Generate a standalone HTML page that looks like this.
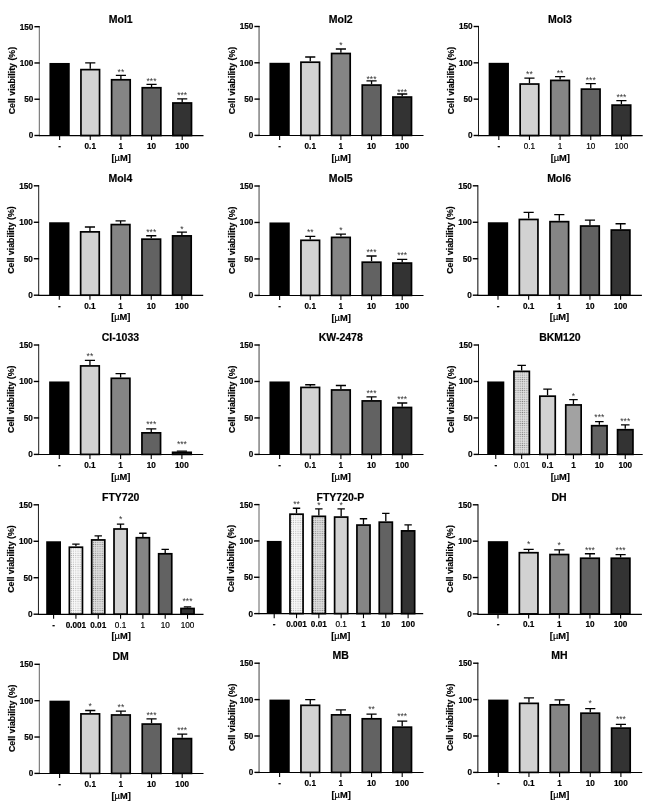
<!DOCTYPE html>
<html lang="en"><head><meta charset="utf-8"><title>Cell viability</title>
<style>html,body{margin:0;padding:0;background:#fff}body{width:649px;height:805px;overflow:hidden}svg{display:block;will-change:transform}text{font-family:"Liberation Sans", Arial, sans-serif;fill:#000;stroke:#000;stroke-width:.18px}.t{font-size:10.5px;font-weight:bold;text-anchor:middle}.k{font-size:8.2px;font-weight:bold}.y{font-size:8.8px;font-weight:bold;text-anchor:middle}.u{font-size:9.3px;font-weight:bold;text-anchor:middle}.s{font-size:8.6px;text-anchor:middle;fill:#333;stroke:none}</style></head><body>
<svg width="649" height="805" viewBox="0 0 649 805">
<defs>
<pattern id="p1" width="2.2" height="2.2" patternUnits="userSpaceOnUse"><rect width="2.2" height="2.2" fill="#fafafa"/><rect x="0.5" y="0.6" width="1.0" height="1.0" fill="#a8a8a8"/></pattern>
<pattern id="p2" width="2.2" height="2.2" patternUnits="userSpaceOnUse"><rect width="2.2" height="2.2" fill="#e4e4e4"/><rect x="0.5" y="0.6" width="1.1" height="1.0" fill="#808080"/></pattern>
</defs>
<rect width="649" height="805" fill="#fff"/>
<g>
<text class="t" x="120.7" y="22.7">Mol1</text>
<text class="y" transform="translate(14.5 80.6) rotate(-90)">Cell viability (%)</text>
<rect x="49.45" y="62.97" width="20.30" height="72.53" fill="#000"/>
<path d="M59.60 135.50v4.6" stroke="#000" stroke-width="1.1"/>
<text class="k" text-anchor="middle" x="59.60" y="148.90">-</text>
<path d="M90.25 68.77V62.97M85.17 62.97H95.33" stroke="#000" stroke-width="1.3" fill="none"/>
<rect x="80.95" y="69.62" width="18.60" height="65.88" fill="#d2d2d2" stroke="#000" stroke-width="1.7"/>
<path d="M90.25 135.50v4.6" stroke="#000" stroke-width="1.1"/>
<text class="k" text-anchor="middle" x="90.25" y="148.90">0.1</text>
<path d="M120.90 78.92V75.30M115.83 75.30H125.98" stroke="#000" stroke-width="1.3" fill="none"/>
<rect x="111.60" y="79.77" width="18.60" height="55.73" fill="#858585" stroke="#000" stroke-width="1.7"/>
<text class="s" x="120.90" y="75.10">**</text>
<path d="M120.90 135.50v4.6" stroke="#000" stroke-width="1.1"/>
<text class="k" text-anchor="middle" x="120.90" y="148.90">1</text>
<path d="M151.55 86.90V84.36M146.47 84.36H156.62" stroke="#000" stroke-width="1.3" fill="none"/>
<rect x="142.25" y="87.75" width="18.60" height="47.75" fill="#626262" stroke="#000" stroke-width="1.7"/>
<text class="s" x="151.55" y="84.16">***</text>
<path d="M151.55 135.50v4.6" stroke="#000" stroke-width="1.1"/>
<text class="k" text-anchor="middle" x="151.55" y="148.90">10</text>
<path d="M182.20 102.13V98.87M177.12 98.87H187.27" stroke="#000" stroke-width="1.3" fill="none"/>
<rect x="172.90" y="102.98" width="18.60" height="32.52" fill="#333333" stroke="#000" stroke-width="1.7"/>
<text class="s" x="182.20" y="98.37">***</text>
<path d="M182.20 135.50v4.6" stroke="#000" stroke-width="1.1"/>
<text class="k" text-anchor="middle" x="182.20" y="148.90">100</text>
<path d="M39.30 26.20V135.50" stroke="#111" stroke-width="0.66" fill="none"/>
<path d="M38.90 135.60H203.50" stroke="#000" stroke-width="1.2" fill="none"/>
<path d="M39.70 135.50h-5.3" stroke="#000" stroke-width="1.4"/>
<text class="k" text-anchor="end" x="33.40" y="138.40">0</text>
<path d="M39.70 99.23h-5.3" stroke="#000" stroke-width="1.4"/>
<text class="k" text-anchor="end" x="33.40" y="102.13">50</text>
<path d="M39.70 62.97h-5.3" stroke="#000" stroke-width="1.4"/>
<text class="k" text-anchor="end" x="33.40" y="65.87">100</text>
<path d="M39.70 26.70h-5.3" stroke="#000" stroke-width="1.4"/>
<text class="k" text-anchor="end" x="33.40" y="29.60">150</text>
<text class="u" x="121.10" y="160.60">[<tspan font-weight="normal">µ</tspan>M]</text>
</g>
<g>
<text class="t" x="340.7" y="22.5">Mol2</text>
<text class="y" transform="translate(234.5 80.5) rotate(-90)">Cell viability (%)</text>
<rect x="269.45" y="62.80" width="20.30" height="72.60" fill="#000"/>
<path d="M279.60 135.40v4.6" stroke="#000" stroke-width="1.1"/>
<text class="k" text-anchor="middle" x="279.60" y="148.80">-</text>
<path d="M310.25 61.35V56.99M305.17 56.99H315.32" stroke="#000" stroke-width="1.3" fill="none"/>
<rect x="300.95" y="62.20" width="18.60" height="73.20" fill="#d2d2d2" stroke="#000" stroke-width="1.7"/>
<path d="M310.25 135.40v4.6" stroke="#000" stroke-width="1.1"/>
<text class="k" text-anchor="middle" x="310.25" y="148.80">0.1</text>
<path d="M340.90 52.64V49.01M335.82 49.01H345.97" stroke="#000" stroke-width="1.3" fill="none"/>
<rect x="331.60" y="53.49" width="18.60" height="81.91" fill="#858585" stroke="#000" stroke-width="1.7"/>
<text class="s" x="340.90" y="47.81">*</text>
<path d="M340.90 135.40v4.6" stroke="#000" stroke-width="1.1"/>
<text class="k" text-anchor="middle" x="340.90" y="148.80">1</text>
<path d="M371.55 84.22V80.88M366.47 80.88H376.62" stroke="#000" stroke-width="1.3" fill="none"/>
<rect x="362.25" y="85.07" width="18.60" height="50.33" fill="#626262" stroke="#000" stroke-width="1.7"/>
<text class="s" x="371.55" y="81.58">***</text>
<path d="M371.55 135.40v4.6" stroke="#000" stroke-width="1.1"/>
<text class="k" text-anchor="middle" x="371.55" y="148.80">10</text>
<path d="M402.20 96.20V94.02M397.12 94.02H407.27" stroke="#000" stroke-width="1.3" fill="none"/>
<rect x="392.90" y="97.05" width="18.60" height="38.35" fill="#333333" stroke="#000" stroke-width="1.7"/>
<text class="s" x="402.20" y="94.92">***</text>
<path d="M402.20 135.40v4.6" stroke="#000" stroke-width="1.1"/>
<text class="k" text-anchor="middle" x="402.20" y="148.80">100</text>
<path d="M259.05 26.00V135.40" stroke="#111" stroke-width="0.80" fill="none"/>
<path d="M258.90 135.50H423.50" stroke="#000" stroke-width="1.2" fill="none"/>
<path d="M259.70 135.40h-5.3" stroke="#000" stroke-width="1.4"/>
<text class="k" text-anchor="end" x="253.40" y="138.30">0</text>
<path d="M259.70 99.10h-5.3" stroke="#000" stroke-width="1.4"/>
<text class="k" text-anchor="end" x="253.40" y="102.00">50</text>
<path d="M259.70 62.80h-5.3" stroke="#000" stroke-width="1.4"/>
<text class="k" text-anchor="end" x="253.40" y="65.70">100</text>
<path d="M259.70 26.50h-5.3" stroke="#000" stroke-width="1.4"/>
<text class="k" text-anchor="end" x="253.40" y="29.40">150</text>
<text class="u" x="341.10" y="160.50">[<tspan font-weight="normal">µ</tspan>M]</text>
</g>
<g>
<text class="t" x="559.9" y="22.5">Mol3</text>
<text class="y" transform="translate(453.7 80.5) rotate(-90)">Cell viability (%)</text>
<rect x="488.65" y="62.83" width="20.30" height="72.67" fill="#000"/>
<path d="M498.80 135.50v4.6" stroke="#000" stroke-width="1.1"/>
<text class="k" text-anchor="middle" x="498.80" y="148.90">-</text>
<path d="M529.45 83.18V78.09M524.37 78.09H534.52" stroke="#000" stroke-width="1.3" fill="none"/>
<rect x="520.15" y="84.03" width="18.60" height="51.47" fill="#d2d2d2" stroke="#000" stroke-width="1.7"/>
<text class="s" x="529.45" y="76.89">**</text>
<path d="M529.45 135.50v4.6" stroke="#000" stroke-width="1.1"/>
<text class="k" text-anchor="middle" style="font-weight:normal" x="529.45" y="148.90">0.1</text>
<path d="M560.10 79.55V76.64M555.02 76.64H565.17" stroke="#000" stroke-width="1.3" fill="none"/>
<rect x="550.80" y="80.40" width="18.60" height="55.10" fill="#858585" stroke="#000" stroke-width="1.7"/>
<text class="s" x="560.10" y="75.84">**</text>
<path d="M560.10 135.50v4.6" stroke="#000" stroke-width="1.1"/>
<text class="k" text-anchor="middle" style="font-weight:normal" x="560.10" y="148.90">1</text>
<path d="M590.75 88.27V83.54M585.67 83.54H595.83" stroke="#000" stroke-width="1.3" fill="none"/>
<rect x="581.45" y="89.12" width="18.60" height="46.38" fill="#626262" stroke="#000" stroke-width="1.7"/>
<text class="s" x="590.75" y="82.94">***</text>
<path d="M590.75 135.50v4.6" stroke="#000" stroke-width="1.1"/>
<text class="k" text-anchor="middle" style="font-weight:normal" x="590.75" y="148.90">10</text>
<path d="M621.40 104.25V100.62M616.32 100.62H626.48" stroke="#000" stroke-width="1.3" fill="none"/>
<rect x="612.10" y="105.10" width="18.60" height="30.40" fill="#333333" stroke="#000" stroke-width="1.7"/>
<text class="s" x="621.40" y="100.42">***</text>
<path d="M621.40 135.50v4.6" stroke="#000" stroke-width="1.1"/>
<text class="k" text-anchor="middle" style="font-weight:normal" x="621.40" y="148.90">100</text>
<path d="M478.50 26.00V135.50" stroke="#111" stroke-width="0.95" fill="none"/>
<path d="M478.10 135.60H642.70" stroke="#000" stroke-width="1.2" fill="none"/>
<path d="M478.90 135.50h-5.3" stroke="#000" stroke-width="1.4"/>
<text class="k" text-anchor="end" x="472.60" y="138.40">0</text>
<path d="M478.90 99.17h-5.3" stroke="#000" stroke-width="1.4"/>
<text class="k" text-anchor="end" x="472.60" y="102.07">50</text>
<path d="M478.90 62.83h-5.3" stroke="#000" stroke-width="1.4"/>
<text class="k" text-anchor="end" x="472.60" y="65.73">100</text>
<path d="M478.90 26.50h-5.3" stroke="#000" stroke-width="1.4"/>
<text class="k" text-anchor="end" x="472.60" y="29.40">150</text>
<text class="u" x="560.30" y="160.60">[<tspan font-weight="normal">µ</tspan>M]</text>
</g>
<g>
<text class="t" x="120.4" y="181.8">Mol4</text>
<text class="y" transform="translate(13.9 240.0) rotate(-90)">Cell viability (%)</text>
<rect x="49.15" y="222.27" width="20.30" height="72.93" fill="#000"/>
<path d="M59.30 295.20v4.6" stroke="#000" stroke-width="1.1"/>
<text class="k" text-anchor="middle" x="59.30" y="308.60">-</text>
<path d="M89.95 231.02V227.01M84.87 227.01H95.02" stroke="#000" stroke-width="1.3" fill="none"/>
<rect x="80.65" y="231.87" width="18.60" height="63.33" fill="#d2d2d2" stroke="#000" stroke-width="1.7"/>
<path d="M89.95 295.20v4.6" stroke="#000" stroke-width="1.1"/>
<text class="k" text-anchor="middle" x="89.95" y="308.60">0.1</text>
<path d="M120.60 223.73V220.81M115.52 220.81H125.67" stroke="#000" stroke-width="1.3" fill="none"/>
<rect x="111.30" y="224.58" width="18.60" height="70.62" fill="#858585" stroke="#000" stroke-width="1.7"/>
<path d="M120.60 295.20v4.6" stroke="#000" stroke-width="1.1"/>
<text class="k" text-anchor="middle" x="120.60" y="308.60">1</text>
<path d="M151.25 238.31V235.76M146.18 235.76H156.32" stroke="#000" stroke-width="1.3" fill="none"/>
<rect x="141.95" y="239.16" width="18.60" height="56.04" fill="#626262" stroke="#000" stroke-width="1.7"/>
<text class="s" x="151.25" y="235.46">***</text>
<path d="M151.25 295.20v4.6" stroke="#000" stroke-width="1.1"/>
<text class="k" text-anchor="middle" x="151.25" y="308.60">10</text>
<path d="M181.90 235.03V232.11M176.82 232.11H186.97" stroke="#000" stroke-width="1.3" fill="none"/>
<rect x="172.60" y="235.88" width="18.60" height="59.32" fill="#333333" stroke="#000" stroke-width="1.7"/>
<text class="s" x="181.90" y="232.01">*</text>
<path d="M181.90 295.20v4.6" stroke="#000" stroke-width="1.1"/>
<text class="k" text-anchor="middle" x="181.90" y="308.60">100</text>
<path d="M38.70 185.30V295.20" stroke="#111" stroke-width="0.95" fill="none"/>
<path d="M38.30 295.30H203.20" stroke="#000" stroke-width="1.2" fill="none"/>
<path d="M39.10 295.20h-5.3" stroke="#000" stroke-width="1.4"/>
<text class="k" text-anchor="end" x="32.80" y="298.10">0</text>
<path d="M39.10 258.73h-5.3" stroke="#000" stroke-width="1.4"/>
<text class="k" text-anchor="end" x="32.80" y="261.63">50</text>
<path d="M39.10 222.27h-5.3" stroke="#000" stroke-width="1.4"/>
<text class="k" text-anchor="end" x="32.80" y="225.17">100</text>
<path d="M39.10 185.80h-5.3" stroke="#000" stroke-width="1.4"/>
<text class="k" text-anchor="end" x="32.80" y="188.70">150</text>
<text class="u" x="120.80" y="320.30">[<tspan font-weight="normal">µ</tspan>M]</text>
</g>
<g>
<text class="t" x="340.7" y="182.0">Mol5</text>
<text class="y" transform="translate(234.5 240.2) rotate(-90)">Cell viability (%)</text>
<rect x="269.45" y="222.47" width="20.30" height="72.93" fill="#000"/>
<path d="M279.60 295.40v4.6" stroke="#000" stroke-width="1.1"/>
<text class="k" text-anchor="middle" x="279.60" y="308.80">-</text>
<path d="M310.25 239.46V236.32M305.17 236.32H315.32" stroke="#000" stroke-width="1.3" fill="none"/>
<rect x="300.95" y="240.31" width="18.60" height="55.09" fill="#d2d2d2" stroke="#000" stroke-width="1.7"/>
<text class="s" x="310.25" y="235.12">**</text>
<path d="M310.25 295.40v4.6" stroke="#000" stroke-width="1.1"/>
<text class="k" text-anchor="middle" x="310.25" y="308.80">0.1</text>
<path d="M340.90 236.54V234.14M335.82 234.14H345.97" stroke="#000" stroke-width="1.3" fill="none"/>
<rect x="331.60" y="237.39" width="18.60" height="58.01" fill="#858585" stroke="#000" stroke-width="1.7"/>
<text class="s" x="340.90" y="232.94">*</text>
<path d="M340.90 295.40v4.6" stroke="#000" stroke-width="1.1"/>
<text class="k" text-anchor="middle" x="340.90" y="308.80">1</text>
<path d="M371.55 261.34V256.02M366.47 256.02H376.62" stroke="#000" stroke-width="1.3" fill="none"/>
<rect x="362.25" y="262.19" width="18.60" height="33.21" fill="#626262" stroke="#000" stroke-width="1.7"/>
<text class="s" x="371.55" y="254.82">***</text>
<path d="M371.55 295.40v4.6" stroke="#000" stroke-width="1.1"/>
<text class="k" text-anchor="middle" x="371.55" y="308.80">10</text>
<path d="M402.20 262.22V259.30M397.12 259.30H407.27" stroke="#000" stroke-width="1.3" fill="none"/>
<rect x="392.90" y="263.07" width="18.60" height="32.33" fill="#333333" stroke="#000" stroke-width="1.7"/>
<text class="s" x="402.20" y="258.10">***</text>
<path d="M402.20 295.40v4.6" stroke="#000" stroke-width="1.1"/>
<text class="k" text-anchor="middle" x="402.20" y="308.80">100</text>
<path d="M259.05 185.50V295.40" stroke="#111" stroke-width="0.80" fill="none"/>
<path d="M258.90 295.50H423.50" stroke="#000" stroke-width="1.2" fill="none"/>
<path d="M259.70 295.40h-5.3" stroke="#000" stroke-width="1.4"/>
<text class="k" text-anchor="end" x="253.40" y="298.30">0</text>
<path d="M259.70 258.93h-5.3" stroke="#000" stroke-width="1.4"/>
<text class="k" text-anchor="end" x="253.40" y="261.83">50</text>
<path d="M259.70 222.47h-5.3" stroke="#000" stroke-width="1.4"/>
<text class="k" text-anchor="end" x="253.40" y="225.37">100</text>
<path d="M259.70 186.00h-5.3" stroke="#000" stroke-width="1.4"/>
<text class="k" text-anchor="end" x="253.40" y="188.90">150</text>
<text class="u" x="341.10" y="320.50">[<tspan font-weight="normal">µ</tspan>M]</text>
</g>
<g>
<text class="t" x="559.1" y="181.8">Mol6</text>
<text class="y" transform="translate(452.9 240.0) rotate(-90)">Cell viability (%)</text>
<rect x="487.85" y="222.27" width="20.30" height="72.93" fill="#000"/>
<path d="M498.00 295.20v4.6" stroke="#000" stroke-width="1.1"/>
<text class="k" text-anchor="middle" x="498.00" y="308.60">-</text>
<path d="M528.65 218.62V212.42M523.57 212.42H533.73" stroke="#000" stroke-width="1.3" fill="none"/>
<rect x="519.35" y="219.47" width="18.60" height="75.73" fill="#d2d2d2" stroke="#000" stroke-width="1.7"/>
<path d="M528.65 295.20v4.6" stroke="#000" stroke-width="1.1"/>
<text class="k" text-anchor="middle" x="528.65" y="308.60">0.1</text>
<path d="M559.30 220.81V214.61M554.22 214.61H564.38" stroke="#000" stroke-width="1.3" fill="none"/>
<rect x="550.00" y="221.66" width="18.60" height="73.54" fill="#858585" stroke="#000" stroke-width="1.7"/>
<path d="M559.30 295.20v4.6" stroke="#000" stroke-width="1.1"/>
<text class="k" text-anchor="middle" x="559.30" y="308.60">1</text>
<path d="M589.95 225.18V220.08M584.88 220.08H595.03" stroke="#000" stroke-width="1.3" fill="none"/>
<rect x="580.65" y="226.03" width="18.60" height="69.17" fill="#626262" stroke="#000" stroke-width="1.7"/>
<path d="M589.95 295.20v4.6" stroke="#000" stroke-width="1.1"/>
<text class="k" text-anchor="middle" x="589.95" y="308.60">10</text>
<path d="M620.60 229.20V223.73M615.52 223.73H625.68" stroke="#000" stroke-width="1.3" fill="none"/>
<rect x="611.30" y="230.05" width="18.60" height="65.15" fill="#333333" stroke="#000" stroke-width="1.7"/>
<path d="M620.60 295.20v4.6" stroke="#000" stroke-width="1.1"/>
<text class="k" text-anchor="middle" x="620.60" y="308.60">100</text>
<path d="M477.85 185.30V295.20" stroke="#111" stroke-width="1.05" fill="none"/>
<path d="M477.30 295.30H641.90" stroke="#000" stroke-width="1.2" fill="none"/>
<path d="M478.10 295.20h-5.3" stroke="#000" stroke-width="1.4"/>
<text class="k" text-anchor="end" x="471.80" y="298.10">0</text>
<path d="M478.10 258.73h-5.3" stroke="#000" stroke-width="1.4"/>
<text class="k" text-anchor="end" x="471.80" y="261.63">50</text>
<path d="M478.10 222.27h-5.3" stroke="#000" stroke-width="1.4"/>
<text class="k" text-anchor="end" x="471.80" y="225.17">100</text>
<path d="M478.10 185.80h-5.3" stroke="#000" stroke-width="1.4"/>
<text class="k" text-anchor="end" x="471.80" y="188.70">150</text>
<text class="u" x="559.50" y="320.30">[<tspan font-weight="normal">µ</tspan>M]</text>
</g>
<g>
<text class="t" x="120.4" y="341.0">CI-1033</text>
<text class="y" transform="translate(13.9 399.2) rotate(-90)">Cell viability (%)</text>
<rect x="49.15" y="381.47" width="20.30" height="72.93" fill="#000"/>
<path d="M59.30 454.40v4.6" stroke="#000" stroke-width="1.1"/>
<text class="k" text-anchor="middle" x="59.30" y="467.80">-</text>
<path d="M89.95 365.06V360.46M84.87 360.46H95.02" stroke="#000" stroke-width="1.3" fill="none"/>
<rect x="80.65" y="365.91" width="18.60" height="88.49" fill="#d2d2d2" stroke="#000" stroke-width="1.7"/>
<text class="s" x="89.95" y="359.26">**</text>
<path d="M89.95 454.40v4.6" stroke="#000" stroke-width="1.1"/>
<text class="k" text-anchor="middle" x="89.95" y="467.80">0.1</text>
<path d="M120.60 377.46V373.59M115.52 373.59H125.67" stroke="#000" stroke-width="1.3" fill="none"/>
<rect x="111.30" y="378.31" width="18.60" height="76.09" fill="#858585" stroke="#000" stroke-width="1.7"/>
<path d="M120.60 454.40v4.6" stroke="#000" stroke-width="1.1"/>
<text class="k" text-anchor="middle" x="120.60" y="467.80">1</text>
<path d="M151.25 432.01V428.95M146.18 428.95H156.32" stroke="#000" stroke-width="1.3" fill="none"/>
<rect x="141.95" y="432.86" width="18.60" height="21.54" fill="#626262" stroke="#000" stroke-width="1.7"/>
<text class="s" x="151.25" y="427.05">***</text>
<path d="M151.25 454.40v4.6" stroke="#000" stroke-width="1.1"/>
<text class="k" text-anchor="middle" x="151.25" y="467.80">10</text>
<path d="M181.90 451.48V451.19M176.82 451.19H186.97" stroke="#000" stroke-width="1.3" fill="none"/>
<rect x="172.60" y="452.33" width="18.60" height="2.07" fill="#333333" stroke="#000" stroke-width="1.7"/>
<text class="s" x="181.90" y="447.19">***</text>
<path d="M181.90 454.40v4.6" stroke="#000" stroke-width="1.1"/>
<text class="k" text-anchor="middle" x="181.90" y="467.80">100</text>
<path d="M38.70 344.50V454.40" stroke="#111" stroke-width="0.95" fill="none"/>
<path d="M38.30 454.50H203.20" stroke="#000" stroke-width="1.2" fill="none"/>
<path d="M39.10 454.40h-5.3" stroke="#000" stroke-width="1.4"/>
<text class="k" text-anchor="end" x="32.80" y="457.30">0</text>
<path d="M39.10 417.93h-5.3" stroke="#000" stroke-width="1.4"/>
<text class="k" text-anchor="end" x="32.80" y="420.83">50</text>
<path d="M39.10 381.47h-5.3" stroke="#000" stroke-width="1.4"/>
<text class="k" text-anchor="end" x="32.80" y="384.37">100</text>
<path d="M39.10 345.00h-5.3" stroke="#000" stroke-width="1.4"/>
<text class="k" text-anchor="end" x="32.80" y="347.90">150</text>
<text class="u" x="120.80" y="479.50">[<tspan font-weight="normal">µ</tspan>M]</text>
</g>
<g>
<text class="t" x="340.7" y="341.0">KW-2478</text>
<text class="y" transform="translate(234.5 399.2) rotate(-90)">Cell viability (%)</text>
<rect x="269.45" y="381.47" width="20.30" height="72.93" fill="#000"/>
<path d="M279.60 454.40v4.6" stroke="#000" stroke-width="1.1"/>
<text class="k" text-anchor="middle" x="279.60" y="467.80">-</text>
<path d="M310.25 386.57V384.75M305.17 384.75H315.32" stroke="#000" stroke-width="1.3" fill="none"/>
<rect x="300.95" y="387.42" width="18.60" height="66.98" fill="#d2d2d2" stroke="#000" stroke-width="1.7"/>
<path d="M310.25 454.40v4.6" stroke="#000" stroke-width="1.1"/>
<text class="k" text-anchor="middle" x="310.25" y="467.80">0.1</text>
<path d="M340.90 389.12V385.48M335.82 385.48H345.97" stroke="#000" stroke-width="1.3" fill="none"/>
<rect x="331.60" y="389.97" width="18.60" height="64.43" fill="#858585" stroke="#000" stroke-width="1.7"/>
<path d="M340.90 454.40v4.6" stroke="#000" stroke-width="1.1"/>
<text class="k" text-anchor="middle" x="340.90" y="467.80">1</text>
<path d="M371.55 400.06V396.78M366.47 396.78H376.62" stroke="#000" stroke-width="1.3" fill="none"/>
<rect x="362.25" y="400.91" width="18.60" height="53.49" fill="#626262" stroke="#000" stroke-width="1.7"/>
<text class="s" x="371.55" y="395.98">***</text>
<path d="M371.55 454.40v4.6" stroke="#000" stroke-width="1.1"/>
<text class="k" text-anchor="middle" x="371.55" y="467.80">10</text>
<path d="M402.20 406.63V402.98M397.12 402.98H407.27" stroke="#000" stroke-width="1.3" fill="none"/>
<rect x="392.90" y="407.48" width="18.60" height="46.92" fill="#333333" stroke="#000" stroke-width="1.7"/>
<text class="s" x="402.20" y="401.78">***</text>
<path d="M402.20 454.40v4.6" stroke="#000" stroke-width="1.1"/>
<text class="k" text-anchor="middle" x="402.20" y="467.80">100</text>
<path d="M259.05 344.50V454.40" stroke="#111" stroke-width="0.80" fill="none"/>
<path d="M258.90 454.50H423.50" stroke="#000" stroke-width="1.2" fill="none"/>
<path d="M259.70 454.40h-5.3" stroke="#000" stroke-width="1.4"/>
<text class="k" text-anchor="end" x="253.40" y="457.30">0</text>
<path d="M259.70 417.93h-5.3" stroke="#000" stroke-width="1.4"/>
<text class="k" text-anchor="end" x="253.40" y="420.83">50</text>
<path d="M259.70 381.47h-5.3" stroke="#000" stroke-width="1.4"/>
<text class="k" text-anchor="end" x="253.40" y="384.37">100</text>
<path d="M259.70 345.00h-5.3" stroke="#000" stroke-width="1.4"/>
<text class="k" text-anchor="end" x="253.40" y="347.90">150</text>
<text class="u" x="341.10" y="479.50">[<tspan font-weight="normal">µ</tspan>M]</text>
</g>
<g>
<text class="t" x="559.9" y="341.0">BKM120</text>
<text class="y" transform="translate(453.7 399.2) rotate(-90)">Cell viability (%)</text>
<rect x="487.20" y="381.47" width="17.10" height="72.93" fill="#000"/>
<path d="M495.75 454.40v4.6" stroke="#000" stroke-width="1.1"/>
<text class="k" text-anchor="middle" x="495.75" y="467.80">-</text>
<path d="M521.65 370.53V365.28M517.38 365.28H525.92" stroke="#000" stroke-width="1.3" fill="none"/>
<rect x="513.95" y="371.38" width="15.40" height="83.02" fill="url(#p2)" stroke="#000" stroke-width="1.7"/>
<path d="M521.65 454.40v4.6" stroke="#000" stroke-width="1.1"/>
<text class="k" text-anchor="middle" style="font-weight:normal" x="521.65" y="467.80">0.01</text>
<path d="M547.55 395.32V389.05M543.27 389.05H551.82" stroke="#000" stroke-width="1.3" fill="none"/>
<rect x="539.85" y="396.17" width="15.40" height="58.23" fill="#d2d2d2" stroke="#000" stroke-width="1.7"/>
<path d="M547.55 454.40v4.6" stroke="#000" stroke-width="1.1"/>
<text class="k" text-anchor="middle" x="547.55" y="467.80">0.1</text>
<path d="M573.45 404.08V399.70M569.18 399.70H577.73" stroke="#000" stroke-width="1.3" fill="none"/>
<rect x="565.75" y="404.93" width="15.40" height="49.47" fill="#a2a2a2" stroke="#000" stroke-width="1.7"/>
<text class="s" x="573.45" y="398.50">*</text>
<path d="M573.45 454.40v4.6" stroke="#000" stroke-width="1.1"/>
<text class="k" text-anchor="middle" x="573.45" y="467.80">1</text>
<path d="M599.35 424.86V421.58M595.08 421.58H603.62" stroke="#000" stroke-width="1.3" fill="none"/>
<rect x="591.65" y="425.71" width="15.40" height="28.69" fill="#626262" stroke="#000" stroke-width="1.7"/>
<text class="s" x="599.35" y="420.38">***</text>
<path d="M599.35 454.40v4.6" stroke="#000" stroke-width="1.1"/>
<text class="k" text-anchor="middle" x="599.35" y="467.80">10</text>
<path d="M625.25 428.87V424.86M620.98 424.86H629.52" stroke="#000" stroke-width="1.3" fill="none"/>
<rect x="617.55" y="429.72" width="15.40" height="24.68" fill="#333333" stroke="#000" stroke-width="1.7"/>
<text class="s" x="625.25" y="423.66">***</text>
<path d="M625.25 454.40v4.6" stroke="#000" stroke-width="1.1"/>
<text class="k" text-anchor="middle" x="625.25" y="467.80">100</text>
<path d="M478.50 344.50V454.40" stroke="#111" stroke-width="0.95" fill="none"/>
<path d="M478.10 454.50H642.70" stroke="#000" stroke-width="1.2" fill="none"/>
<path d="M478.90 454.40h-5.3" stroke="#000" stroke-width="1.4"/>
<text class="k" text-anchor="end" x="472.60" y="457.30">0</text>
<path d="M478.90 417.93h-5.3" stroke="#000" stroke-width="1.4"/>
<text class="k" text-anchor="end" x="472.60" y="420.83">50</text>
<path d="M478.90 381.47h-5.3" stroke="#000" stroke-width="1.4"/>
<text class="k" text-anchor="end" x="472.60" y="384.37">100</text>
<path d="M478.90 345.00h-5.3" stroke="#000" stroke-width="1.4"/>
<text class="k" text-anchor="end" x="472.60" y="347.90">150</text>
<text class="u" x="560.30" y="479.50">[<tspan font-weight="normal">µ</tspan>M]</text>
</g>
<g>
<text class="t" x="120.7" y="500.8">FTY720</text>
<text class="y" transform="translate(13.7 559.0) rotate(-90)">Cell viability (%)</text>
<rect x="46.20" y="541.27" width="14.80" height="72.93" fill="#000"/>
<path d="M53.60 614.20v4.6" stroke="#000" stroke-width="1.1"/>
<text class="k" text-anchor="middle" x="53.60" y="627.60">-</text>
<path d="M75.92 546.37V544.18M72.22 544.18H79.62" stroke="#000" stroke-width="1.3" fill="none"/>
<rect x="69.37" y="547.22" width="13.10" height="66.98" fill="url(#p1)" stroke="#000" stroke-width="1.7"/>
<path d="M75.92 614.20v4.6" stroke="#000" stroke-width="1.1"/>
<text class="k" text-anchor="middle" x="75.92" y="627.60">0.001</text>
<path d="M98.24 539.08V535.80M94.54 535.80H101.94" stroke="#000" stroke-width="1.3" fill="none"/>
<rect x="91.69" y="539.93" width="13.10" height="74.27" fill="url(#p2)" stroke="#000" stroke-width="1.7"/>
<path d="M98.24 614.20v4.6" stroke="#000" stroke-width="1.1"/>
<text class="k" text-anchor="middle" x="98.24" y="627.60">0.01</text>
<path d="M120.56 528.14V524.13M116.86 524.13H124.26" stroke="#000" stroke-width="1.3" fill="none"/>
<rect x="114.01" y="528.99" width="13.10" height="85.21" fill="#d2d2d2" stroke="#000" stroke-width="1.7"/>
<text class="s" x="120.56" y="522.13">*</text>
<path d="M120.56 614.20v4.6" stroke="#000" stroke-width="1.1"/>
<text class="k" text-anchor="middle" style="font-weight:normal" x="120.56" y="627.60">0.1</text>
<path d="M142.88 536.89V533.24M139.18 533.24H146.58" stroke="#000" stroke-width="1.3" fill="none"/>
<rect x="136.33" y="537.74" width="13.10" height="76.46" fill="#858585" stroke="#000" stroke-width="1.7"/>
<path d="M142.88 614.20v4.6" stroke="#000" stroke-width="1.1"/>
<text class="k" text-anchor="middle" style="font-weight:normal" x="142.88" y="627.60">1</text>
<path d="M165.20 552.94V549.29M161.50 549.29H168.90" stroke="#000" stroke-width="1.3" fill="none"/>
<rect x="158.65" y="553.79" width="13.10" height="60.41" fill="#626262" stroke="#000" stroke-width="1.7"/>
<path d="M165.20 614.20v4.6" stroke="#000" stroke-width="1.1"/>
<text class="k" text-anchor="middle" style="font-weight:normal" x="165.20" y="627.60">10</text>
<path d="M187.52 607.64V606.91M183.82 606.91H191.22" stroke="#000" stroke-width="1.3" fill="none"/>
<rect x="180.97" y="608.49" width="13.10" height="5.71" fill="#333333" stroke="#000" stroke-width="1.7"/>
<text class="s" x="187.52" y="603.91">***</text>
<path d="M187.52 614.20v4.6" stroke="#000" stroke-width="1.1"/>
<text class="k" text-anchor="middle" style="font-weight:normal" x="187.52" y="627.60">100</text>
<path d="M38.45 504.30V614.20" stroke="#111" stroke-width="0.95" fill="none"/>
<path d="M38.05 614.30H203.50" stroke="#000" stroke-width="1.2" fill="none"/>
<path d="M38.85 614.20h-5.3" stroke="#000" stroke-width="1.4"/>
<text class="k" text-anchor="end" x="32.55" y="617.10">0</text>
<path d="M38.85 577.73h-5.3" stroke="#000" stroke-width="1.4"/>
<text class="k" text-anchor="end" x="32.55" y="580.63">50</text>
<path d="M38.85 541.27h-5.3" stroke="#000" stroke-width="1.4"/>
<text class="k" text-anchor="end" x="32.55" y="544.17">100</text>
<path d="M38.85 504.80h-5.3" stroke="#000" stroke-width="1.4"/>
<text class="k" text-anchor="end" x="32.55" y="507.70">150</text>
<text class="u" x="121.10" y="639.30">[<tspan font-weight="normal">µ</tspan>M]</text>
</g>
<g>
<text class="t" x="340.4" y="500.6">FTY720-P</text>
<text class="y" transform="translate(234.2 558.6) rotate(-90)">Cell viability (%)</text>
<rect x="266.80" y="540.93" width="14.80" height="72.67" fill="#000"/>
<path d="M274.20 613.60v4.6" stroke="#000" stroke-width="1.1"/>
<text class="k" text-anchor="middle" x="274.20" y="627.00">-</text>
<path d="M296.52 513.32V508.23M292.82 508.23H300.22" stroke="#000" stroke-width="1.3" fill="none"/>
<rect x="289.97" y="514.17" width="13.10" height="99.43" fill="url(#p1)" stroke="#000" stroke-width="1.7"/>
<text class="s" x="296.52" y="507.03">**</text>
<path d="M296.52 613.60v4.6" stroke="#000" stroke-width="1.1"/>
<text class="k" text-anchor="middle" x="296.52" y="627.00">0.001</text>
<path d="M318.84 515.50V508.96M315.14 508.96H322.54" stroke="#000" stroke-width="1.3" fill="none"/>
<rect x="312.29" y="516.35" width="13.10" height="97.25" fill="url(#p2)" stroke="#000" stroke-width="1.7"/>
<text class="s" x="318.84" y="507.76">*</text>
<path d="M318.84 613.60v4.6" stroke="#000" stroke-width="1.1"/>
<text class="k" text-anchor="middle" x="318.84" y="627.00">0.01</text>
<path d="M341.16 516.23V508.96M337.46 508.96H344.86" stroke="#000" stroke-width="1.3" fill="none"/>
<rect x="334.61" y="517.08" width="13.10" height="96.52" fill="#d2d2d2" stroke="#000" stroke-width="1.7"/>
<text class="s" x="341.16" y="507.76">*</text>
<path d="M341.16 613.60v4.6" stroke="#000" stroke-width="1.1"/>
<text class="k" text-anchor="middle" style="font-weight:normal" x="341.16" y="627.00">0.1</text>
<path d="M363.48 524.22V518.77M359.78 518.77H367.18" stroke="#000" stroke-width="1.3" fill="none"/>
<rect x="356.93" y="525.07" width="13.10" height="88.53" fill="#858585" stroke="#000" stroke-width="1.7"/>
<path d="M363.48 613.60v4.6" stroke="#000" stroke-width="1.1"/>
<text class="k" text-anchor="middle" x="363.48" y="627.00">1</text>
<path d="M385.80 521.31V513.32M382.10 513.32H389.50" stroke="#000" stroke-width="1.3" fill="none"/>
<rect x="379.25" y="522.16" width="13.10" height="91.44" fill="#626262" stroke="#000" stroke-width="1.7"/>
<path d="M385.80 613.60v4.6" stroke="#000" stroke-width="1.1"/>
<text class="k" text-anchor="middle" x="385.80" y="627.00">10</text>
<path d="M408.12 530.03V524.95M404.42 524.95H411.82" stroke="#000" stroke-width="1.3" fill="none"/>
<rect x="401.57" y="530.88" width="13.10" height="82.72" fill="#333333" stroke="#000" stroke-width="1.7"/>
<path d="M408.12 613.60v4.6" stroke="#000" stroke-width="1.1"/>
<text class="k" text-anchor="middle" x="408.12" y="627.00">100</text>
<path d="M259.00 504.10V613.60" stroke="#111" stroke-width="0.66" fill="none"/>
<path d="M258.60 613.70H423.20" stroke="#000" stroke-width="1.2" fill="none"/>
<path d="M259.40 613.60h-5.3" stroke="#000" stroke-width="1.4"/>
<text class="k" text-anchor="end" x="253.10" y="616.50">0</text>
<path d="M259.40 577.27h-5.3" stroke="#000" stroke-width="1.4"/>
<text class="k" text-anchor="end" x="253.10" y="580.17">50</text>
<path d="M259.40 540.93h-5.3" stroke="#000" stroke-width="1.4"/>
<text class="k" text-anchor="end" x="253.10" y="543.83">100</text>
<path d="M259.40 504.60h-5.3" stroke="#000" stroke-width="1.4"/>
<text class="k" text-anchor="end" x="253.10" y="507.50">150</text>
<text class="u" x="340.80" y="638.70">[<tspan font-weight="normal">µ</tspan>M]</text>
</g>
<g>
<text class="t" x="559.1" y="500.8">DH</text>
<text class="y" transform="translate(452.9 558.9) rotate(-90)">Cell viability (%)</text>
<rect x="487.85" y="541.17" width="20.30" height="72.73" fill="#000"/>
<path d="M498.00 613.90v4.6" stroke="#000" stroke-width="1.1"/>
<text class="k" text-anchor="middle" x="498.00" y="627.30">-</text>
<path d="M528.65 551.86V549.31M523.57 549.31H533.73" stroke="#000" stroke-width="1.3" fill="none"/>
<rect x="519.35" y="552.71" width="18.60" height="61.19" fill="#d2d2d2" stroke="#000" stroke-width="1.7"/>
<text class="s" x="528.65" y="547.41">*</text>
<path d="M528.65 613.90v4.6" stroke="#000" stroke-width="1.1"/>
<text class="k" text-anchor="middle" x="528.65" y="627.30">0.1</text>
<path d="M559.30 553.68V549.82M554.22 549.82H564.38" stroke="#000" stroke-width="1.3" fill="none"/>
<rect x="550.00" y="554.53" width="18.60" height="59.37" fill="#858585" stroke="#000" stroke-width="1.7"/>
<text class="s" x="559.30" y="547.92">*</text>
<path d="M559.30 613.90v4.6" stroke="#000" stroke-width="1.1"/>
<text class="k" text-anchor="middle" x="559.30" y="627.30">1</text>
<path d="M589.95 557.39V553.75M584.88 553.75H595.03" stroke="#000" stroke-width="1.3" fill="none"/>
<rect x="580.65" y="558.24" width="18.60" height="55.66" fill="#626262" stroke="#000" stroke-width="1.7"/>
<text class="s" x="589.95" y="552.55">***</text>
<path d="M589.95 613.90v4.6" stroke="#000" stroke-width="1.1"/>
<text class="k" text-anchor="middle" x="589.95" y="627.30">10</text>
<path d="M620.60 557.39V554.62M615.52 554.62H625.68" stroke="#000" stroke-width="1.3" fill="none"/>
<rect x="611.30" y="558.24" width="18.60" height="55.66" fill="#333333" stroke="#000" stroke-width="1.7"/>
<text class="s" x="620.60" y="553.42">***</text>
<path d="M620.60 613.90v4.6" stroke="#000" stroke-width="1.1"/>
<text class="k" text-anchor="middle" x="620.60" y="627.30">100</text>
<path d="M478.00 504.30V613.90" stroke="#111" stroke-width="1.10" fill="none"/>
<path d="M477.30 614.35H641.90" stroke="#000" stroke-width="1.2" fill="none"/>
<path d="M478.10 613.90h-5.3" stroke="#000" stroke-width="1.4"/>
<text class="k" text-anchor="end" x="471.80" y="616.80">0</text>
<path d="M478.10 577.53h-5.3" stroke="#000" stroke-width="1.4"/>
<text class="k" text-anchor="end" x="471.80" y="580.43">50</text>
<path d="M478.10 541.17h-5.3" stroke="#000" stroke-width="1.4"/>
<text class="k" text-anchor="end" x="471.80" y="544.07">100</text>
<path d="M478.10 504.80h-5.3" stroke="#000" stroke-width="1.4"/>
<text class="k" text-anchor="end" x="471.80" y="507.70">150</text>
<text class="u" x="559.50" y="639.00">[<tspan font-weight="normal">µ</tspan>M]</text>
</g>
<g>
<text class="t" x="120.7" y="660.3">DM</text>
<text class="y" transform="translate(14.5 718.3) rotate(-90)">Cell viability (%)</text>
<rect x="49.45" y="700.67" width="20.30" height="72.73" fill="#000"/>
<path d="M59.60 773.40v4.6" stroke="#000" stroke-width="1.1"/>
<text class="k" text-anchor="middle" x="59.60" y="786.80">-</text>
<path d="M90.25 713.03V710.49M85.17 710.49H95.33" stroke="#000" stroke-width="1.3" fill="none"/>
<rect x="80.95" y="713.88" width="18.60" height="59.52" fill="#d2d2d2" stroke="#000" stroke-width="1.7"/>
<text class="s" x="90.25" y="708.69">*</text>
<path d="M90.25 773.40v4.6" stroke="#000" stroke-width="1.1"/>
<text class="k" text-anchor="middle" x="90.25" y="786.80">0.1</text>
<path d="M120.90 714.12V711.21M115.83 711.21H125.98" stroke="#000" stroke-width="1.3" fill="none"/>
<rect x="111.60" y="714.97" width="18.60" height="58.43" fill="#858585" stroke="#000" stroke-width="1.7"/>
<text class="s" x="120.90" y="710.01">**</text>
<path d="M120.90 773.40v4.6" stroke="#000" stroke-width="1.1"/>
<text class="k" text-anchor="middle" x="120.90" y="786.80">1</text>
<path d="M151.55 723.21V718.85M146.47 718.85H156.62" stroke="#000" stroke-width="1.3" fill="none"/>
<rect x="142.25" y="724.06" width="18.60" height="49.34" fill="#626262" stroke="#000" stroke-width="1.7"/>
<text class="s" x="151.55" y="718.25">***</text>
<path d="M151.55 773.40v4.6" stroke="#000" stroke-width="1.1"/>
<text class="k" text-anchor="middle" x="151.55" y="786.80">10</text>
<path d="M182.20 737.76V734.12M177.12 734.12H187.27" stroke="#000" stroke-width="1.3" fill="none"/>
<rect x="172.90" y="738.61" width="18.60" height="34.79" fill="#333333" stroke="#000" stroke-width="1.7"/>
<text class="s" x="182.20" y="732.92">***</text>
<path d="M182.20 773.40v4.6" stroke="#000" stroke-width="1.1"/>
<text class="k" text-anchor="middle" x="182.20" y="786.80">100</text>
<path d="M39.30 663.80V773.40" stroke="#111" stroke-width="0.66" fill="none"/>
<path d="M38.90 773.50H203.50" stroke="#000" stroke-width="1.2" fill="none"/>
<path d="M39.70 773.40h-5.3" stroke="#000" stroke-width="1.4"/>
<text class="k" text-anchor="end" x="33.40" y="776.30">0</text>
<path d="M39.70 737.03h-5.3" stroke="#000" stroke-width="1.4"/>
<text class="k" text-anchor="end" x="33.40" y="739.93">50</text>
<path d="M39.70 700.67h-5.3" stroke="#000" stroke-width="1.4"/>
<text class="k" text-anchor="end" x="33.40" y="703.57">100</text>
<path d="M39.70 664.30h-5.3" stroke="#000" stroke-width="1.4"/>
<text class="k" text-anchor="end" x="33.40" y="667.20">150</text>
<text class="u" x="121.10" y="798.50">[<tspan font-weight="normal">µ</tspan>M]</text>
</g>
<g>
<text class="t" x="340.7" y="659.2">MB</text>
<text class="y" transform="translate(234.5 717.3) rotate(-90)">Cell viability (%)</text>
<rect x="269.45" y="699.60" width="20.30" height="72.80" fill="#000"/>
<path d="M279.60 772.40v4.6" stroke="#000" stroke-width="1.1"/>
<text class="k" text-anchor="middle" x="279.60" y="785.80">-</text>
<path d="M310.25 704.48V699.60M305.17 699.60H315.32" stroke="#000" stroke-width="1.3" fill="none"/>
<rect x="300.95" y="705.33" width="18.60" height="67.07" fill="#d2d2d2" stroke="#000" stroke-width="1.7"/>
<path d="M310.25 772.40v4.6" stroke="#000" stroke-width="1.1"/>
<text class="k" text-anchor="middle" x="310.25" y="785.80">0.1</text>
<path d="M340.90 714.01V709.79M335.82 709.79H345.97" stroke="#000" stroke-width="1.3" fill="none"/>
<rect x="331.60" y="714.86" width="18.60" height="57.54" fill="#858585" stroke="#000" stroke-width="1.7"/>
<path d="M340.90 772.40v4.6" stroke="#000" stroke-width="1.1"/>
<text class="k" text-anchor="middle" x="340.90" y="785.80">1</text>
<path d="M371.55 717.95V714.16M366.47 714.16H376.62" stroke="#000" stroke-width="1.3" fill="none"/>
<rect x="362.25" y="718.80" width="18.60" height="53.60" fill="#626262" stroke="#000" stroke-width="1.7"/>
<text class="s" x="371.55" y="711.96">**</text>
<path d="M371.55 772.40v4.6" stroke="#000" stroke-width="1.1"/>
<text class="k" text-anchor="middle" x="371.55" y="785.80">10</text>
<path d="M402.20 726.32V721.22M397.12 721.22H407.27" stroke="#000" stroke-width="1.3" fill="none"/>
<rect x="392.90" y="727.17" width="18.60" height="45.23" fill="#333333" stroke="#000" stroke-width="1.7"/>
<text class="s" x="402.20" y="718.72">***</text>
<path d="M402.20 772.40v4.6" stroke="#000" stroke-width="1.1"/>
<text class="k" text-anchor="middle" x="402.20" y="785.80">100</text>
<path d="M259.05 662.70V772.40" stroke="#111" stroke-width="0.80" fill="none"/>
<path d="M258.90 772.50H423.50" stroke="#000" stroke-width="1.2" fill="none"/>
<path d="M259.70 772.40h-5.3" stroke="#000" stroke-width="1.4"/>
<text class="k" text-anchor="end" x="253.40" y="775.30">0</text>
<path d="M259.70 736.00h-5.3" stroke="#000" stroke-width="1.4"/>
<text class="k" text-anchor="end" x="253.40" y="738.90">50</text>
<path d="M259.70 699.60h-5.3" stroke="#000" stroke-width="1.4"/>
<text class="k" text-anchor="end" x="253.40" y="702.50">100</text>
<path d="M259.70 663.20h-5.3" stroke="#000" stroke-width="1.4"/>
<text class="k" text-anchor="end" x="253.40" y="666.10">150</text>
<text class="u" x="341.10" y="797.50">[<tspan font-weight="normal">µ</tspan>M]</text>
</g>
<g>
<text class="t" x="559.4" y="659.2">MH</text>
<text class="y" transform="translate(453.2 717.3) rotate(-90)">Cell viability (%)</text>
<rect x="488.15" y="699.60" width="20.30" height="72.80" fill="#000"/>
<path d="M498.30 772.40v4.6" stroke="#000" stroke-width="1.1"/>
<text class="k" text-anchor="middle" x="498.30" y="785.80">-</text>
<path d="M528.95 702.51V697.78M523.87 697.78H534.02" stroke="#000" stroke-width="1.3" fill="none"/>
<rect x="519.65" y="703.36" width="18.60" height="69.04" fill="#d2d2d2" stroke="#000" stroke-width="1.7"/>
<path d="M528.95 772.40v4.6" stroke="#000" stroke-width="1.1"/>
<text class="k" text-anchor="middle" x="528.95" y="785.80">0.1</text>
<path d="M559.60 703.97V699.96M554.52 699.96H564.67" stroke="#000" stroke-width="1.3" fill="none"/>
<rect x="550.30" y="704.82" width="18.60" height="67.58" fill="#858585" stroke="#000" stroke-width="1.7"/>
<path d="M559.60 772.40v4.6" stroke="#000" stroke-width="1.1"/>
<text class="k" text-anchor="middle" x="559.60" y="785.80">1</text>
<path d="M590.25 712.34V708.70M585.17 708.70H595.33" stroke="#000" stroke-width="1.3" fill="none"/>
<rect x="580.95" y="713.19" width="18.60" height="59.21" fill="#626262" stroke="#000" stroke-width="1.7"/>
<text class="s" x="590.25" y="705.80">*</text>
<path d="M590.25 772.40v4.6" stroke="#000" stroke-width="1.1"/>
<text class="k" text-anchor="middle" x="590.25" y="785.80">10</text>
<path d="M620.90 727.26V724.35M615.82 724.35H625.98" stroke="#000" stroke-width="1.3" fill="none"/>
<rect x="611.60" y="728.11" width="18.60" height="44.29" fill="#333333" stroke="#000" stroke-width="1.7"/>
<text class="s" x="620.90" y="722.45">***</text>
<path d="M620.90 772.40v4.6" stroke="#000" stroke-width="1.1"/>
<text class="k" text-anchor="middle" x="620.90" y="785.80">100</text>
<path d="M477.85 662.70V772.40" stroke="#111" stroke-width="1.05" fill="none"/>
<path d="M477.60 772.50H642.20" stroke="#000" stroke-width="1.2" fill="none"/>
<path d="M478.40 772.40h-5.3" stroke="#000" stroke-width="1.4"/>
<text class="k" text-anchor="end" x="472.10" y="775.30">0</text>
<path d="M478.40 736.00h-5.3" stroke="#000" stroke-width="1.4"/>
<text class="k" text-anchor="end" x="472.10" y="738.90">50</text>
<path d="M478.40 699.60h-5.3" stroke="#000" stroke-width="1.4"/>
<text class="k" text-anchor="end" x="472.10" y="702.50">100</text>
<path d="M478.40 663.20h-5.3" stroke="#000" stroke-width="1.4"/>
<text class="k" text-anchor="end" x="472.10" y="666.10">150</text>
<text class="u" x="559.80" y="797.50">[<tspan font-weight="normal">µ</tspan>M]</text>
</g>
</svg></body></html>
